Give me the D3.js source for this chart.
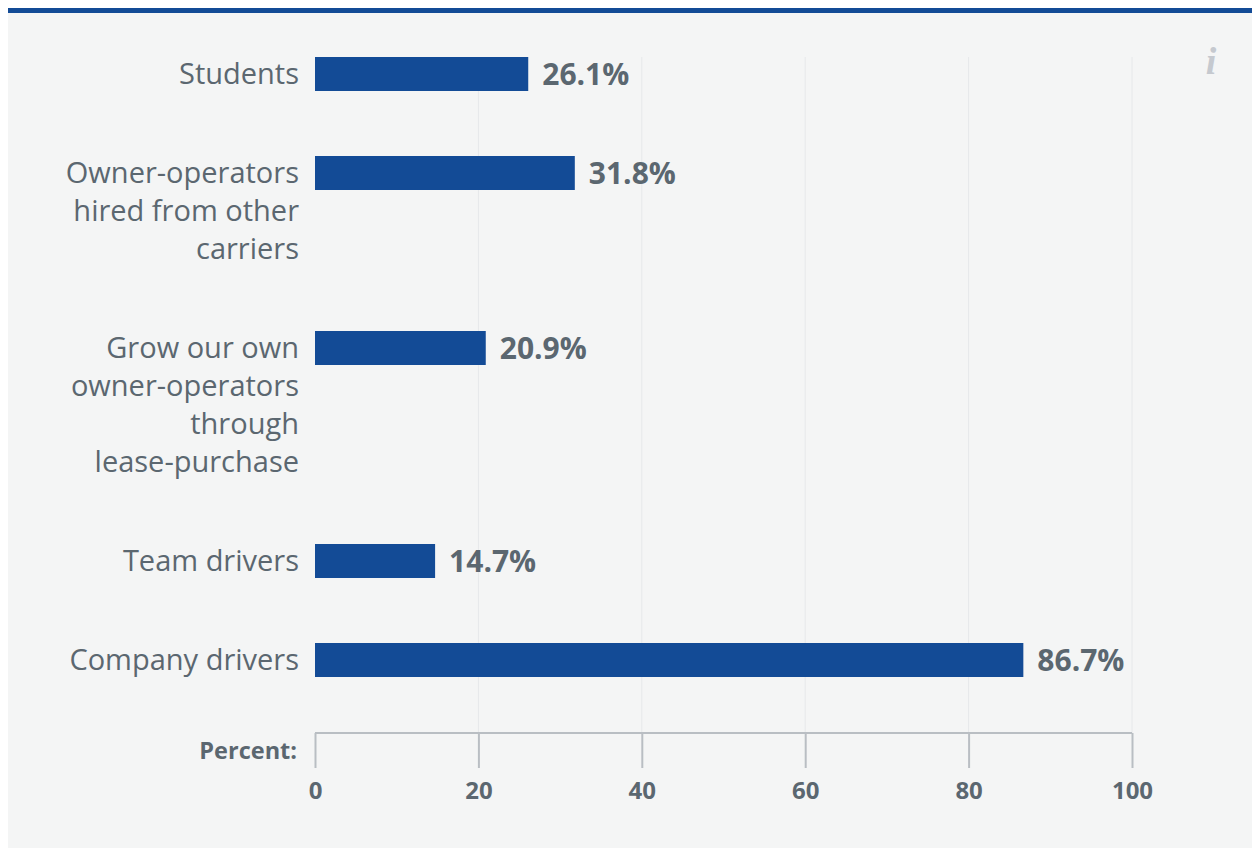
<!DOCTYPE html>
<html>
<head>
<meta charset="utf-8">
<script src="https://cdn.jsdelivr.net/npm/d3@7"></script>
<style>
  html, body { margin: 0; padding: 0; background: #ffffff; }
  svg { display: block; }
</style>
</head>
<body>
<svg id="chart" width="1252" height="848"></svg>
<script>
// Recruiting sources (percent of respondents)
const categories = [
  ["Students"],
  ["Owner-operators", "hired from other", "carriers"],
  ["Grow our own", "owner-operators", "through", "lease-purchase"],
  ["Team drivers"],
  ["Company drivers"]
];
const values = [26.1, 31.8, 20.9, 14.7, 86.7];
const tickValues = [0, 20, 40, 60, 80, 100];
const axisTitle = "Percent:";

const W = 1252, H = 848;
const textColor = "#5b6770";
const barColor = "#134b96";
const fontFamily = "'Open Sans', sans-serif";

const svg = d3.select("#chart");

// panel background and top rule
svg.append("rect").attr("x", 8).attr("y", 8).attr("width", W - 8).attr("height", H - 8).attr("fill", "#f4f5f5");
svg.append("rect").attr("x", 8).attr("y", 8).attr("width", W - 8).attr("height", 5).attr("fill", barColor);

// info glyph
svg.append("text")
  .attr("x", 1211).attr("y", 74)
  .attr("text-anchor", "middle")
  .attr("font-family", "'Liberation Serif', 'DejaVu Serif', serif")
  .attr("font-style", "italic")
  .attr("font-weight", "bold")
  .attr("font-size", 38)
  .attr("fill", "#c5c9cf")
  .text("i");

// horizontal scale
const x = d3.scaleLinear().domain([0, 100]).range([315, 1132]);

// vertical layout: rows stacked by number of label lines plus a fixed gap (in line units)
const lineHeight = 38;
const gapUnits = 61 / lineHeight;
const rowUnits = [];
let acc = 0;
categories.forEach(lines => { rowUnits.push(acc); acc += lines.length + gapUnits; });
const y = d3.scaleLinear().domain([0, 1]).range([74, 74 + lineHeight]);
const barH = 34;

const gridTop = 57, axisY = 733;

// gridlines
svg.append("g").selectAll("line")
  .data(tickValues.filter(d => d > 0))
  .join("line")
  .attr("x1", d => x(d)).attr("x2", d => x(d))
  .attr("y1", gridTop).attr("y2", axisY)
  .attr("stroke", "#e6e8ea").attr("stroke-width", 1);

// axis
const axis = d3.axisBottom(x)
  .tickValues(tickValues)
  .tickSize(35)
  .tickPadding(14)
  .tickSizeOuter(0);
const gAxis = svg.append("g")
  .attr("transform", `translate(0,${axisY})`)
  .call(axis);
gAxis.select(".domain").attr("stroke", "#b9bec3").attr("stroke-width", 2)
  .attr("d", `M${x(0)},0H${x(100)}`);
gAxis.selectAll(".tick line").attr("stroke", "#b9bec3").attr("stroke-width", 2);
gAxis.selectAll(".tick text")
  .attr("fill", textColor)
  .attr("font-family", fontFamily)
  .attr("font-weight", "bold")
  .attr("font-size", 24)
  .attr("dy", "0.71em");

svg.append("text")
  .attr("x", 297).attr("y", 751)
  .attr("dy", "0.35em")
  .attr("text-anchor", "end")
  .attr("font-family", fontFamily)
  .attr("font-weight", "bold")
  .attr("font-size", 23.5)
  .attr("fill", textColor)
  .text(axisTitle);

// bars
const rows = svg.append("g").selectAll("g")
  .data(values.map((v, i) => ({ v, lines: categories[i], u: rowUnits[i] })))
  .join("g");

rows.append("rect")
  .attr("x", x(0))
  .attr("y", d => y(d.u) - barH / 2)
  .attr("width", d => x(d.v) - x(0))
  .attr("height", barH)
  .attr("fill", barColor);

rows.append("text")
  .attr("x", d => x(d.v) + 14)
  .attr("y", d => y(d.u))
  .attr("dy", "0.35em")
  .attr("font-family", fontFamily)
  .attr("font-weight", "bold")
  .attr("font-size", 30)
  .attr("fill", textColor)
  .text(d => d.v.toFixed(1) + "%");

// category labels
rows.append("text")
  .attr("text-anchor", "end")
  .attr("font-family", fontFamily)
  .attr("font-size", 29)
  .attr("fill", textColor)
  .selectAll("tspan")
  .data(d => d.lines.map((t, k) => ({ t, k, u: d.u })))
  .join("tspan")
  .attr("x", 299)
  .attr("y", d => y(d.u + d.k))
  .attr("dy", "0.35em")
  .text(d => d.t);
</script>
</body>
</html>
